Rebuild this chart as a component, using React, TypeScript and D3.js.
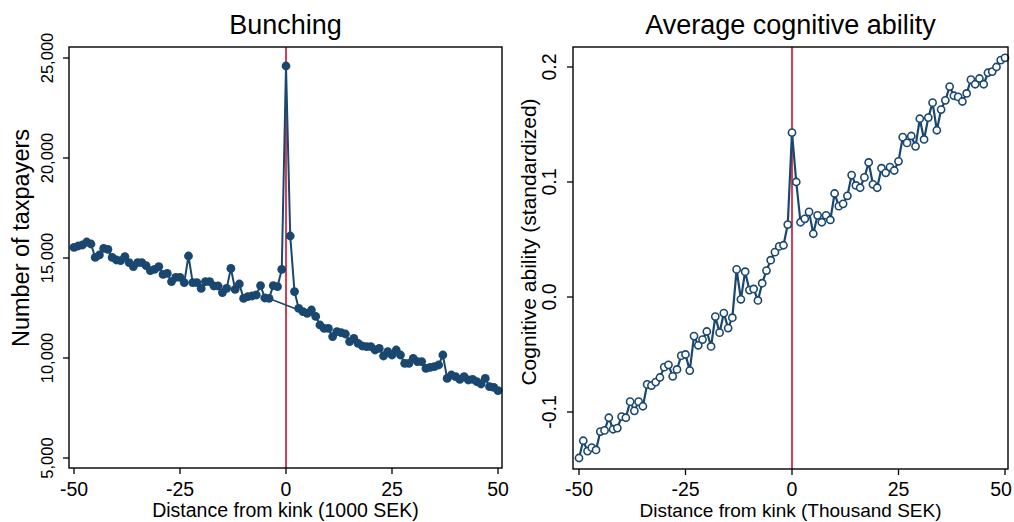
import React from "react";
import * as d3 from "d3";

// ---------- data ----------
const bins = [
  -50, -49, -48, -47, -46, -45, -44, -43, -42, -41,
  -40, -39, -38, -37, -36, -35, -34, -33, -32, -31,
  -30, -29, -28, -27, -26, -25, -24, -23, -22, -21,
  -20, -19, -18, -17, -16, -15, -14, -13, -12, -11,
  -10, -9, -8, -7, -6, -5, -4, -3, -2, -1,
  0,
  1, 2, 3, 4, 5, 6, 7, 8, 9, 10,
  11, 12, 13, 14, 15, 16, 17, 18, 19, 20,
  21, 22, 23, 24, 25, 26, 27, 28, 29, 30,
  31, 32, 33, 34, 35, 36, 37, 38, 39, 40,
  41, 42, 43, 44, 45, 46, 47, 48, 49, 50,
];

const taxpayers = [
  15530, 15600, 15650, 15800, 15700, 15030, 15150, 15480, 15430, 15030,
  14900, 14870, 15070, 14770, 14570, 14770, 14770, 14620, 14370, 14430,
  14570, 14180, 14230, 13820, 14030, 14030, 13770, 15100, 13770, 13770,
  13480, 13820, 13820, 13600, 13600, 13270, 13480, 14480, 13430, 13700,
  12980, 13070, 13100, 13150, 13620, 13000, 12980, 13620, 13570, 14430,
  24600,
  16100, 13320, 12480, 12320, 12230, 12400, 12080, 11650, 11480, 11480,
  11070, 11320, 11270, 11200, 10820, 10980, 10730, 10600, 10570, 10570,
  10400, 10480, 10100, 10320, 10150, 10400, 10150, 9730, 9730, 9980,
  9820, 9820, 9480, 9530, 9570, 9650, 10150, 8980, 9150, 9070,
  8930, 9070, 8900, 8930, 8820, 8700, 8980, 8570, 8530, 8370,
];

// excluded window endpoints joined by a straight segment
const bridgeBins = [-4, 7];

const cognitive = [
  -0.140, -0.125, -0.134, -0.131, -0.133, -0.117, -0.116, -0.105, -0.115, -0.114,
  -0.104, -0.105, -0.091, -0.099, -0.091, -0.095, -0.076, -0.077, -0.074, -0.070,
  -0.061, -0.059, -0.069, -0.063, -0.051, -0.050, -0.064, -0.034, -0.042, -0.037,
  -0.030, -0.043, -0.017, -0.031, -0.014, -0.027, -0.018, 0.024, -0.002, 0.022,
  0.006, 0.007, -0.003, 0.012, 0.023, 0.032, 0.039, 0.044, 0.045, 0.063,
  0.143,
  0.100, 0.065, 0.068, 0.074, 0.055, 0.071, 0.065, 0.071, 0.067, 0.090,
  0.079, 0.081, 0.088, 0.106, 0.097, 0.095, 0.104, 0.117, 0.098, 0.095,
  0.112, 0.108, 0.113, 0.110, 0.118, 0.139, 0.134, 0.140, 0.131, 0.155,
  0.137, 0.156, 0.169, 0.145, 0.163, 0.171, 0.183, 0.175, 0.174, 0.170,
  0.177, 0.189, 0.185, 0.190, 0.185, 0.195, 0.196, 0.200, 0.206, 0.208,
];

const xTicks = [-50, -25, 0, 25, 50];
const leftYTicks = [5000, 10000, 15000, 20000, 25000];
const rightYTicks = [-0.1, 0.0, 0.1, 0.2];

const NAVY = "#1a476f";
const RED = "#c8102e";
const FONT = "'Liberation Sans', Arial, Helvetica, sans-serif";
const WIDTH = 1014;

type PanelProps = {
  title: string;
  xTitle: string;
  xTitleSize: number;
  yTitle: string;
  frame: { x0: number; x1: number; y0: number; y1: number };
  xRange: [number, number];
  yDomain: [number, number];
  yRange: [number, number];
  yTicks: number[];
  yFormat: (v: number) => string;
  values: number[];
  hollow: boolean;
  bridge?: number[];
  yTitleX: number;
  yTitleY: number;
  yTitleSize: number;
  yLabelX: number;
  yLabelSize: number;
};

function Panel(p: PanelProps) {
  const x = d3.scaleLinear().domain([-50, 50]).range(p.xRange);
  const y = d3.scaleLinear().domain(p.yDomain).range(p.yRange);
  const pts = bins.map((b, i) => [b, p.values[i]] as [number, number]);
  const line = d3
    .line<[number, number]>()
    .x((d) => x(d[0]))
    .y((d) => y(d[1]));
  const bridgePts = p.bridge
    ? p.bridge.map((b) => [b, p.values[bins.indexOf(b)]] as [number, number])
    : null;
  const { x0, x1, y0, y1 } = p.frame;
  const cx = (x0 + x1) / 2;
  return (
    <g>
      <text x={cx} y={34} textAnchor="middle" fontSize={27} fontFamily={FONT} fill="#000">
        {p.title}
      </text>
      <rect x={x0} y={y0} width={x1 - x0} height={y1 - y0} fill="#fff" stroke="none" />
      <line x1={x(0)} x2={x(0)} y1={y0} y2={y1} stroke={RED} strokeWidth={1.6} />
      {bridgePts && (
        <path d={line(bridgePts) || ""} fill="none" stroke={NAVY} strokeWidth={1.6} />
      )}
      <path d={line(pts) || ""} fill="none" stroke={NAVY} strokeWidth={p.hollow ? 2.2 : 2} strokeLinejoin="round" />
      {pts.map((d, i) =>
        p.hollow ? (
          <circle key={i} cx={x(d[0])} cy={y(d[1])} r={3.6} fill="#fff" stroke={NAVY} strokeWidth={1.6} />
        ) : (
          <circle key={i} cx={x(d[0])} cy={y(d[1])} r={4.4} fill={NAVY} stroke="none" />
        )
      )}
      <rect x={x0} y={y0} width={x1 - x0} height={y1 - y0} fill="none" stroke="#000" strokeWidth={1.4} />
      {xTicks.map((t) => (
        <g key={t}>
          <line x1={x(t)} x2={x(t)} y1={y1} y2={y1 + 6} stroke="#000" strokeWidth={1.3} />
          <text
            x={Math.min(x(t), WIDTH - 13)}
            y={496}
            textAnchor="middle"
            fontSize={19.5}
            fontFamily={FONT}
            fill="#000"
          >
            {t}
          </text>
        </g>
      ))}
      {p.yTicks.map((t) => (
        <g key={t}>
          <line x1={x0} x2={x0 - 6} y1={y(t)} y2={y(t)} stroke="#000" strokeWidth={1.3} />
          <text
            transform={`translate(${p.yLabelX},${y(t)}) rotate(-90)`}
            textAnchor="middle"
            fontSize={p.yLabelSize}
            fontFamily={FONT}
            fill="#000"
          >
            {p.yFormat(t)}
          </text>
        </g>
      ))}
      <text x={cx} y={517} textAnchor="middle" fontSize={p.xTitleSize} fontFamily={FONT} fill="#000">
        {p.xTitle}
      </text>
      <text
        transform={`translate(${p.yTitleX},${p.yTitleY}) rotate(-90)`}
        textAnchor="middle"
        fontSize={p.yTitleSize}
        fontFamily={FONT}
        fill="#000"
      >
        {p.yTitle}
      </text>
    </g>
  );
}

export default function App() {
  const fmtComma = d3.format(",");
  const fmt1 = (v: number) => (v < 0 ? "-" : "") + d3.format(".1f")(Math.abs(v));
  return (
    <svg
      width={WIDTH}
      height={522}
      style={{ position: "absolute", left: 0, top: 0, background: "#fff" }}
    >
      <rect x={0} y={0} width={WIDTH} height={522} fill="#fff" />
      <Panel
        title="Bunching"
        xTitle="Distance from kink (1000 SEK)"
        xTitleSize={19.5}
        yTitle="Number of taxpayers"
        frame={{ x0: 69, x1: 502, y0: 47, y1: 468 }}
        xRange={[74, 498]}
        yDomain={[5000, 25000]}
        yRange={[458, 58]}
        yTicks={leftYTicks}
        yFormat={(v) => fmtComma(v)}
        values={taxpayers}
        hollow={false}
        bridge={bridgeBins}
        yTitleX={29}
        yTitleY={238}
        yTitleSize={23.5}
        yLabelX={53}
        yLabelSize={16.5}
      />
      <Panel
        title="Average cognitive ability"
        xTitle="Distance from kink (Thousand SEK)"
        xTitleSize={19}
        yTitle="Cognitive ability (standardized)"
        frame={{ x0: 573, x1: 1008, y0: 47, y1: 469 }}
        xRange={[579, 1005]}
        yDomain={[-0.1, 0.2]}
        yRange={[412, 67]}
        yTicks={rightYTicks}
        yFormat={fmt1}
        values={cognitive}
        hollow={true}
        yTitleX={536}
        yTitleY={242}
        yTitleSize={21}
        yLabelX={556}
        yLabelSize={19.5}
      />
    </svg>
  );
}
